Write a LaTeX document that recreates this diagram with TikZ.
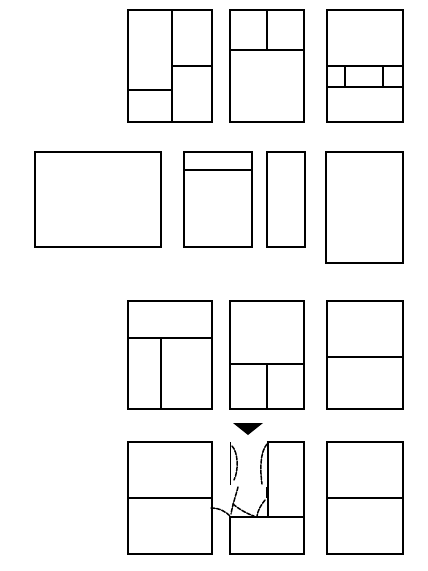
\documentclass[tikz,border=0pt]{standalone}
\begin{document}
\begin{tikzpicture}[x=1pt,y=-1pt,
  frame/.style={draw=black,line width=1.6pt},
  sketch/.style={draw=black,line width=1.5pt,dash pattern=on 4pt off 1.5pt,line cap=round}]
\useasboundingbox[fill=white] (0,0) rectangle (428,571);
% row 1
\draw[frame] (128,10) rectangle (212,122);
\draw[frame] (172,10) -- (172,122);
\draw[frame] (128,90) -- (172,90);
\draw[frame] (172,66) -- (212,66);
\draw[frame] (230,10) rectangle (304,122);
\draw[frame] (230,50) -- (304,50);
\draw[frame] (267,10) -- (267,50);
\draw[frame] (327,10) rectangle (403,122);
\draw[frame] (327,66) -- (403,66);
\draw[frame] (327,87) -- (403,87);
\draw[frame] (345,66) -- (345,87);
\draw[frame] (383,66) -- (383,87);
% row 2
\draw[frame] (35,152) rectangle (161,247);
\draw[frame] (184,152) rectangle (252,247);
\draw[frame] (184,170) -- (252,170);
\draw[frame] (267,152) rectangle (305,247);
\draw[frame] (326,152) rectangle (403,263);
% row 3
\draw[frame] (128,301) rectangle (212,409);
\draw[frame] (128,338) -- (212,338);
\draw[frame] (161,338) -- (161,409);
\draw[frame] (230,301) rectangle (304,409);
\draw[frame] (230,364) -- (304,364);
\draw[frame] (267,364) -- (267,409);
\draw[frame] (327,301) rectangle (403,409);
\draw[frame] (327,357) -- (403,357);
% row 4
\draw[frame] (128,442) rectangle (212,554);
\draw[frame] (128,498) -- (212,498);
\draw[frame] (230,517) rectangle (304,554);
\draw[frame] (268,517) -- (268,442) -- (304,442) -- (304,517);
\draw[frame] (327,442) rectangle (403,554);
\draw[frame] (327,498) -- (403,498);
\fill[black] (233,423) -- (263,423) -- (248,435) -- cycle;
\draw[line width=1.6pt] (230.5,442) -- (230.5,485);
\draw[sketch] (232,446) .. controls (238,452) and (239,470) .. (234,480);
\draw[sketch] (238,487) .. controls (236,495) and (233,503) .. (231,514);
\draw[sketch] (233,504) .. controls (240,510) and (248,514) .. (254,516);
\draw[sketch] (211,508) .. controls (220,508) and (226,512) .. (230,516);
\draw[sketch] (267,444) .. controls (260,452) and (260,470) .. (262,484);
\draw[line width=1.6pt] (266.5,487) -- (266.5,498);
\draw[sketch] (265,500) .. controls (261,505) and (258,510) .. (257,516);
\end{tikzpicture}
\end{document}
